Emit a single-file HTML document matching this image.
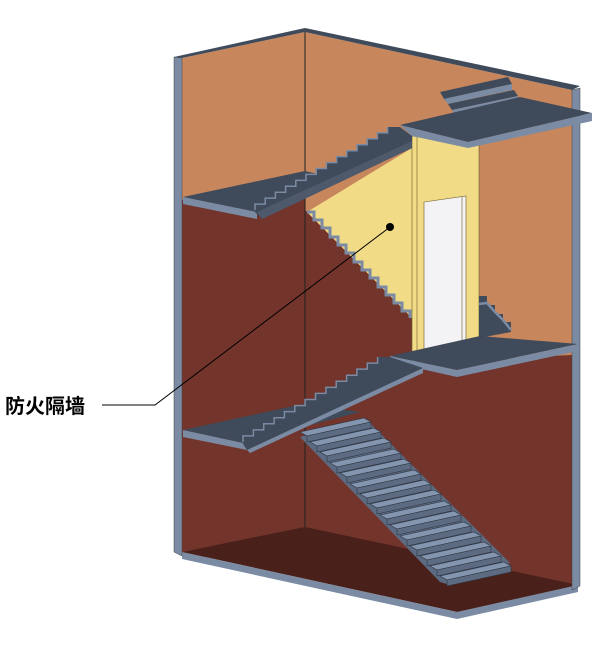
<!DOCTYPE html>
<html><head><meta charset="utf-8"><style>
html,body{margin:0;padding:0;background:#fff;width:614px;height:652px;overflow:hidden}
svg{display:block}
text{font-family:"Liberation Sans","Noto Sans CJK SC",sans-serif}
</style></head><body>
<svg width="614" height="652" viewBox="0 0 614 652" xmlns="http://www.w3.org/2000/svg">
<defs>
<g id="st">
<polygon points="0,0 64,-14 71,-10 7,4" fill="#8395AF" stroke="#2e3440" stroke-width="0.6"/>
<polygon points="7,4 71,-10 71,-4 7,10" fill="#5d6b82" stroke="#2e3440" stroke-width="0.6"/>
</g>
</defs>
<polygon points="182,58 305,32 572,90 572,590 182,555" fill="#C8865C"/>
<polygon points="182,200 305,173 305,528 182,552" fill="#72342B"/>
<polygon points="305,210 412,318 412,362 572,355 572,588 457,612 305,528" fill="#72342B"/>
<polygon points="182,552 305,527 578,585 457,612" fill="#4A201B"/>
<polygon points="182,552 457,612 457,619 182,559" fill="#7A8BA3"/>
<polygon points="457,612 578,585 578,592 457,619" fill="#7A8BA3"/>
<line x1="305" y1="32" x2="305" y2="527" stroke="#222" stroke-width="1"/>
<polygon points="174,57 182,58 182,556 174,552" fill="#7A8BA3" stroke="#444" stroke-width="0.5"/>
<polygon points="174,57 305,28 305,32 182,58" fill="#3F4A5A"/>
<polygon points="305,28 580,86 572,90 305,32" fill="#3F4A5A"/>
<polygon points="572,90 580,88 580,586 572,590" fill="#7A8BA3" stroke="#444" stroke-width="0.5"/>
<polygon points="307,212 412,148 412,318" fill="#F2DB86"/>
<polyline points="307,212 314,212 314,220 322,220 322,228 330,228 330,237 338,237 338,245 346,245 346,253 354,253 354,262 362,262 362,270 370,270 370,278 378,278 378,287 386,287 386,295 394,295 394,303 402,303 402,311 410,311 410,318" fill="none" stroke="#7A8BA3" stroke-width="3"/>
<polygon points="412,136 479,144 479,352 412,362" fill="#F2DB86" stroke="#6b5a2a" stroke-width="0.6"/>
<line x1="417" y1="137" x2="417" y2="361" stroke="#6b5a2a" stroke-width="0.6"/>
<polygon points="424,202 466,196 466,354 424,358" fill="#F3F2F4" stroke="#6b5a2a" stroke-width="0.6"/>
<line x1="462" y1="197" x2="462" y2="354" stroke="#6b5a2a" stroke-width="0.6"/>
<polygon points="479,296 487,296 487,305 495,305 495,314 503,314 503,322 511,322 511,332 479,338" fill="#3F4A5A"/>
<polyline points="479,304 487,303 495,312 503,320 511,330" fill="none" stroke="#7A8BA3" stroke-width="2.5"/>
<polygon points="390,356 480,336 578,344 457,370" fill="#3F4A5A"/>
<polygon points="390,356 457,370 457,377 390,362" fill="#7A8BA3"/>
<polygon points="457,370 578,344 578,351 457,377" fill="#7A8BA3"/>
<!-- upper left landing -->
<polygon points="183,197 305,171 335,178 257,212" fill="#3F4A5A"/>
<polygon points="183,197 257,212 257,219 183,204" fill="#7A8BA3"/>
<!-- upper flight -->
<path d="M255,212 V204.1 H265.2 V198.1 H275.4 V192.2 H285.6 V186.3 H295.8 V180.4 H306 V174.4 H316.2 V168.5 H326.4 V162.6 H336.6 V156.6 H346.8 V150.7 H357 V144.8 H367.2 V138.8 H377.4 V132.9 H387.6 V127 H400 L412,136 L412,148 L262,219 Z" fill="#3F4A5A"/>
<path d="M255,210 V204.1 H265.2 V198.1 H275.4 V192.2 H285.6 V186.3 H295.8 V180.4 H306 V174.4 H316.2 V168.5 H326.4 V162.6 H336.6 V156.6 H346.8 V150.7 H357 V144.8 H367.2 V138.8 H377.4 V132.9 H387.6 V127" fill="none" stroke="#7A8BA3" stroke-width="1.5"/>
<polygon points="262,219 412,148 412,141 257,212" fill="#4e5a6c"/>
<!-- top landing & stairs -->
<polygon points="440,92 508,77 512,84 444,99" fill="#3F4A5A"/>
<polygon points="444,99 512,84 512,90 448,104" fill="#7A8BA3"/>
<polygon points="448,104 514,90 518,96 452,110" fill="#3F4A5A"/>
<polygon points="452,110 518,96 518,102 455,115" fill="#7A8BA3"/>
<polygon points="400,125 520,97 592,113 468,142" fill="#3F4A5A"/>
<polygon points="400,125 468,142 468,148 412,136" fill="#7A8BA3"/>
<polygon points="468,142 592,113 592,121 468,148" fill="#7A8BA3"/>
<!-- big flight -->
<polygon points="300,437 365,418 510,563 450,585 440,582" fill="#5d6b82"/>
<use href="#st" x="300" y="432"/>
<use href="#st" x="310" y="442"/>
<use href="#st" x="320" y="452"/>
<use href="#st" x="330" y="463"/>
<use href="#st" x="340" y="473"/>
<use href="#st" x="350" y="484"/>
<use href="#st" x="360" y="494"/>
<use href="#st" x="370" y="504"/>
<use href="#st" x="380" y="515"/>
<use href="#st" x="390" y="525"/>
<use href="#st" x="400" y="536"/>
<use href="#st" x="410" y="546"/>
<use href="#st" x="420" y="556"/>
<use href="#st" x="430" y="566"/>
<use href="#st" x="440" y="576"/>
<!-- lower left landing -->
<polygon points="183,430 303,404 360,412 243,443" fill="#3F4A5A"/>
<polygon points="183,430 243,443 247,450 183,437" fill="#7A8BA3"/>
<!-- lower middle flight -->
<path d="M243,444 V435.9 H253.4 V429.9 H263.7 V423.8 H274.1 V417.7 H284.4 V411.6 H294.8 V405.6 H305.1 V399.5 H315.5 V393.4 H325.9 V387.4 H336.2 V381.3 H346.6 V375.2 H356.9 V369.1 H367.3 V363.1 H377.6 V357 H390 L423,368 L423,372 L247,450 Z" fill="#3F4A5A"/>
<path d="M243,442 V435.9 H253.4 V429.9 H263.7 V423.8 H274.1 V417.7 H284.4 V411.6 H294.8 V405.6 H305.1 V399.5 H315.5 V393.4 H325.9 V387.4 H336.2 V381.3 H346.6 V375.2 H356.9 V369.1 H367.3 V363.1 H377.6 V357" fill="none" stroke="#7A8BA3" stroke-width="1.5"/>
<polygon points="247,450 423,368 423,373 250,453" fill="#7A8BA3"/>
<!-- leader -->
<polyline points="390,227 155,405 102,405" fill="none" stroke="#000" stroke-width="1"/>
<circle cx="390" cy="227" r="4" fill="#000"/>
<text x="5" y="413" font-size="20" font-weight="bold" fill="#000">防火隔墙</text>
</svg>
</body></html>
